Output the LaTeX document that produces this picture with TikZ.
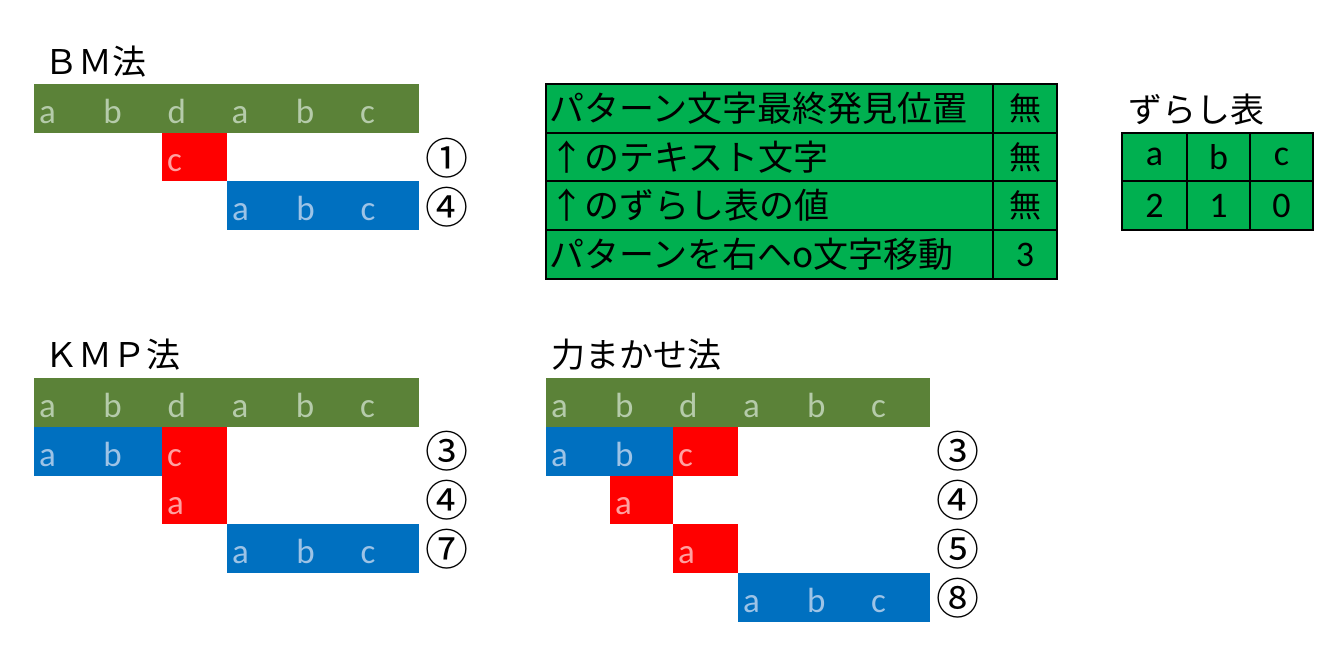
\documentclass[tikz,border=0pt]{standalone}
\usepackage{fontspec}
\setmainfont{Carlito}
\newfontfamily\jp{Noto Sans CJK JP}
\definecolor{bar}{HTML}{5B8238}
\definecolor{bartxt}{HTML}{B5CBAA}
\definecolor{blu}{HTML}{0070C0}
\definecolor{blutxt}{HTML}{9DC3E6}
\definecolor{rd}{HTML}{FF0000}
\definecolor{rdtxt}{HTML}{FFA0A0}
\definecolor{tgreen}{HTML}{00B050}
\tikzset{
  lt/.style={anchor=base west, inner sep=0pt, font=\fontsize{35}{35}\selectfont},
  circ/.style={inner sep=0pt, font=\jp\fontsize{43}{43}\selectfont},
  ttl/.style={anchor=west, inner sep=0pt, font=\jp\fontsize{34}{34}\selectfont},
  tj/.style={anchor=west, inner sep=0pt, font=\jp\fontsize{35}{35}\selectfont},
  tc/.style={inner sep=0pt, font=\jp\fontsize{32}{32}\selectfont},
  sc/.style={inner sep=0pt, font=\fontsize{36}{36}\selectfont},
  grid/.style={line width=2pt, draw=black}
}
\begin{document}
\begin{tikzpicture}[x=1pt,y=-1pt]
\useasboundingbox (0,0) rectangle (1343,654);
\fill[white] (0,0) rectangle (1343,654);
\def\w{64.17}
% ---------- BM ----------
\node[ttl] (bmt) at (44,62) {ＢＭ法};
\fill[bar] (34,84) rectangle (419,133);
\foreach \l [count=\i from 0] in {a,b,d,a,b,c}
  \node[lt,text=bartxt] (bmg\i) at (34+\w*\i+5,123) {\l};
\fill[rd] (162,133) rectangle (227,181);
\node[lt,text=rdtxt] (bmr) at (162+5,171) {c};
\fill[blu] (227,181) rectangle (419,230);
\foreach \l [count=\i from 0] in {a,b,c}
  \node[lt,text=blutxt] (bmb\i) at (227+\w*\i+5,220) {\l};
\node[circ] (bmn1) at (447,158) {①};
\node[circ] (bmn2) at (447,207) {④};
% ---------- Table ----------
\fill[tgreen] (546,84) rectangle (1057,279);
\draw[grid] (546,84) rectangle (1057,279);
\foreach \y in {133,181,230} \draw[grid] (546,\y) -- (1057,\y);
\draw[grid] (993,84) -- (993,279);
\node[tj] (t1) at (549,108.5) {パターン文字最終発見位置};
\node[tj] (t2) at (549,157) {↑のテキスト文字};
\node[tj] (t3) at (549,205.5) {↑のずらし表の値};
\node[tj] (t4) at (549,254.5) {パターンを右へo文字移動};
\node[tc] (v1) at (1025,108.5) {無};
\node[tc] (v2) at (1025,157) {無};
\node[tc] (v3) at (1025,205.5) {無};
\node[sc] (v4) at (1025,254.5) {3};
% ---------- shift table ----------
\node[ttl] (zt) at (1128,110) {ずらし表};
\fill[tgreen] (1122,133) rectangle (1313,230);
\draw[grid] (1122,133) rectangle (1313,230);
\draw[grid] (1122,181) -- (1313,181);
\draw[grid] (1187,133) -- (1187,230);
\draw[grid] (1250,133) -- (1250,230);
\node[sc] (za) at (1154.5,157) {a};
\node[sc] (zb) at (1218.5,157) {b};
\node[sc] (zc) at (1281.5,157) {c};
\node[sc] (z2) at (1154.5,206) {2};
\node[sc] (z1) at (1218.5,206) {1};
\node[sc] (z0) at (1281.5,206) {0};
% ---------- KMP ----------
\node[ttl] (kt) at (44,355) {ＫＭＰ法};
\fill[bar] (34,378) rectangle (419,427);
\foreach \l [count=\i from 0] in {a,b,d,a,b,c}
  \node[lt,text=bartxt] (kg\i) at (34+\w*\i+5,417) {\l};
\fill[blu] (34,427) rectangle (162,476);
\node[lt,text=blutxt] (kb1) at (34+5,466) {a};
\node[lt,text=blutxt] (kb2) at (34+\w+5,466) {b};
\fill[rd] (162,427) rectangle (227,476);
\node[lt,text=rdtxt] (kr1) at (162+5,466) {c};
\fill[rd] (162,476) rectangle (227,524);
\node[lt,text=rdtxt] (kr2) at (162+5,514) {a};
\fill[blu] (227,524) rectangle (419,573);
\foreach \l [count=\i from 0] in {a,b,c}
  \node[lt,text=blutxt] (kbb\i) at (227+\w*\i+5,563) {\l};
\node[circ] (kn1) at (447,451) {③};
\node[circ] (kn2) at (447,500) {④};
\node[circ] (kn3) at (447,549) {⑦};
% ---------- brute force ----------
\node[ttl] (ft) at (551,355) {力まかせ法};
\fill[bar] (546,378) rectangle (930,427);
\foreach \l [count=\i from 0] in {a,b,d,a,b,c}
  \node[lt,text=bartxt] (fg\i) at (546+64*\i+5,417) {\l};
\fill[blu] (546,427) rectangle (673,476);
\node[lt,text=blutxt] (fb1) at (546+5,466) {a};
\node[lt,text=blutxt] (fb2) at (610+5,466) {b};
\fill[rd] (673,427) rectangle (738,476);
\node[lt,text=rdtxt] (fr1) at (673+5,466) {c};
\fill[rd] (610,476) rectangle (673,524);
\node[lt,text=rdtxt] (fr2) at (610+5,514) {a};
\fill[rd] (673,524) rectangle (738,573);
\node[lt,text=rdtxt] (fr3) at (673+5,563) {a};
\fill[blu] (738,573) rectangle (930,622);
\foreach \l [count=\i from 0] in {a,b,c}
  \node[lt,text=blutxt] (fbb\i) at (738+64*\i+5,612) {\l};
\node[circ] (fn1) at (958,451) {③};
\node[circ] (fn2) at (958,500) {④};
\node[circ] (fn3) at (958,549) {⑤};
\node[circ] (fn4) at (958,598) {⑧};
\end{tikzpicture}
\end{document}
